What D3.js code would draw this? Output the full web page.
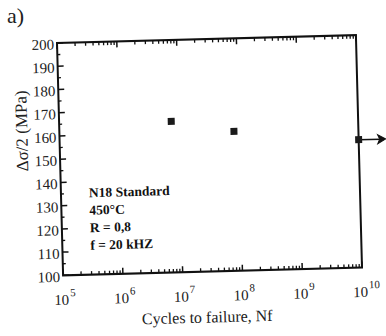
<!DOCTYPE html>
<html><head><meta charset="utf-8">
<script src="https://cdn.jsdelivr.net/npm/d3@7"></script>
<style>body{margin:0;background:#fff}svg{display:block}</style>
</head><body>
<script>
// Data
const cycles = [7.5e6, 8.3e7, 1e10];
const stress = [165, 160, 155];
const runout = [false, false, true];
const yTicks = [100,110,120,130,140,150,160,170,180,190,200];
const xExponents = [5,6,7,8,9,10];
const annotation = ["N18 Standard","450°C","R = 0,8","f = 20 kHZ"];

const W=386,H=336;
const L=60,R=359,T=39,B=271.5;
const svg=d3.select("body").append("svg").attr("width",W).attr("height",H);
const g=svg.append("g").attr("transform","rotate(-1.5,209,155)");
const font="'Liberation Serif','Times New Roman',serif";

const x=d3.scaleLog().domain([1e5,1e10]).range([L,R]);
const y=d3.scaleLinear().domain([100,200]).range([B,T]);

// frame
g.append("rect").attr("x",L).attr("y",T).attr("width",R-L).attr("height",B-T)
 .attr("fill","none").attr("stroke","#111").attr("stroke-width",2);

// x ticks (bottom up, top down)
const minor=[];
for(let e=5;e<10;e++){for(let k=2;k<=9;k++)minor.push(k*Math.pow(10,e));}
const major=xExponents.map(e=>Math.pow(10,e));
[[B,-1],[T,1]].forEach(([yy,dir])=>{
  g.selectAll(null).data(minor).enter().append("line")
   .attr("x1",d=>x(d)).attr("x2",d=>x(d)).attr("y1",yy).attr("y2",yy+dir*3.5)
   .attr("stroke","#111").attr("stroke-width",1.3);
  g.selectAll(null).data(major).enter().append("line")
   .attr("x1",d=>x(d)).attr("x2",d=>x(d)).attr("y1",yy).attr("y2",yy+dir*6)
   .attr("stroke","#111").attr("stroke-width",1.5);
});
// y ticks
const yMinor=d3.range(105,200,10);
g.selectAll(null).data(yTicks).enter().append("line")
 .attr("x1",L).attr("x2",L+6).attr("y1",d=>y(d)).attr("y2",d=>y(d))
 .attr("stroke","#111").attr("stroke-width",1.5);
g.selectAll(null).data(yMinor).enter().append("line")
 .attr("x1",L).attr("x2",L+3).attr("y1",d=>y(d)).attr("y2",d=>y(d))
 .attr("stroke","#111").attr("stroke-width",1.3);

// y tick labels
g.selectAll(null).data(yTicks).enter().append("text")
 .attr("x",L-3).attr("y",d=>y(d)+6.5).attr("text-anchor","end")
 .attr("font-family",font).attr("font-size",15).attr("fill","#222").text(d=>d);

// x tick labels
xExponents.forEach(e=>{
  const px=x(Math.pow(10,e));
  g.append("text").attr("x",px-2).attr("y",B+29.5).attr("text-anchor","middle")
   .attr("font-family",font).attr("font-size",15).attr("fill","#222").text("10");
  g.append("text").attr("x",px+6.5).attr("y",B+21).attr("text-anchor","start")
   .attr("font-family",font).attr("font-size",11).attr("fill","#222").text(e);
});

// axis titles
g.append("text").attr("x",203).attr("y",B+51).attr("text-anchor","middle")
 .attr("font-family",font).attr("font-size",16).attr("fill","#222").text("Cycles to failure, Nf");
g.append("text").attr("transform","translate(28,126) rotate(-90)").attr("text-anchor","middle")
 .attr("font-family",font).attr("font-size",17).attr("fill","#222").text("Δσ/2 (MPa)");

// annotation
g.selectAll(null).data(annotation).enter().append("text")
 .attr("x",88).attr("y",(d,i)=>194+i*17.5)
 .attr("font-family",font).attr("font-size",13.5).attr("font-weight","bold").attr("fill","#111").text(d=>d);

// points
const pts=cycles.map((c,i)=>({c,s:stress[i],r:runout[i]}));
pts.filter(d=>d.r).forEach(d=>{
  const px=x(d.c),py=y(d.s);
  g.append("line").attr("x1",px).attr("x2",px+22).attr("y1",py).attr("y2",py)
   .attr("stroke","#111").attr("stroke-width",1.5);
  g.append("path").attr("d",`M${px+19},${py-4.5} L${px+27},${py} L${px+19},${py+4.5} L${px+21},${py} Z`)
   .attr("fill","#111").attr("stroke","#111").attr("stroke-width",1);
});
g.selectAll(null).data(pts).enter().append("rect")
 .attr("x",d=>x(d.c)-3.5).attr("y",d=>y(d.s)-3.5).attr("width",7).attr("height",7)
 .attr("fill","#1a1a1a");

// panel label
svg.append("text").attr("x",7).attr("y",23).attr("font-family",font).attr("font-size",22)
 .attr("fill","#222").text("a)");
</script>
</body></html>
